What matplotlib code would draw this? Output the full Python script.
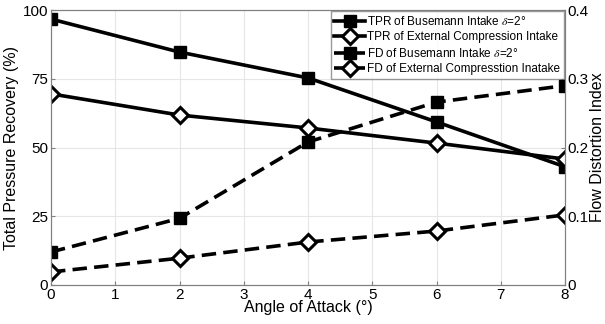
import matplotlib
matplotlib.use('Agg')
import matplotlib.pyplot as plt

plt.rcParams['font.family'] = ['Liberation Sans', 'DejaVu Sans']
plt.rcParams['mathtext.fontset'] = 'stix'

# angle of attack (deg)
aoa = [0, 2, 4, 6, 8]
# total pressure recovery (%)
tpr_busemann = [96.7, 84.7, 75.3, 59.3, 43.0]
tpr_external = [69.5, 61.8, 57.1, 51.6, 45.8]
# flow distortion index
fd_busemann = [0.048, 0.097, 0.208, 0.266, 0.290]
fd_external = [0.019, 0.039, 0.0625, 0.0785, 0.102]

labels = ['TPR of Busemann Intake $\\delta$=2\u00b0',
          'TPR of External Compression Intake',
          'FD of Busemann Intake $\\delta$=2\u00b0',
          'FD of External Compresstion Inatake']

fig = plt.figure(figsize=(6.05, 3.24), dpi=100)
ax = fig.add_axes([51/605, 1 - 285/324, (565-51)/605, 275/324])
ax2 = ax.twinx()

lw = 2.6
l1, = ax.plot(aoa, tpr_busemann, '-', color='black', lw=lw, marker='s', ms=9,
              mfc='black', mec='black')
l2, = ax.plot(aoa, tpr_external, '-', color='black', lw=lw, marker='D', ms=8,
              mfc='white', mec='black', mew=2.2)
l3, = ax2.plot(aoa, fd_busemann, '--', color='black', lw=lw, marker='s', ms=9,
               mfc='black', mec='black', dashes=(4, 2))
l4, = ax2.plot(aoa, fd_external, '--', color='black', lw=lw, marker='D', ms=8,
               mfc='white', mec='black', mew=2.2, dashes=(4, 2))

ax.set_xlim(0, 8)
ax.set_ylim(0, 100)
ax2.set_ylim(0, 0.4)
ax.set_xticks(range(9))
ax.set_yticks([0, 25, 50, 75, 100])
ax2.set_yticks([0, 0.1, 0.2, 0.3, 0.4])
ax2.set_yticklabels(['0', '0.1', '0.2', '0.3', '0.4'])

ax.grid(True, color='#e6e6e6', lw=0.8)
ax.set_axisbelow(True)
for a in (ax, ax2):
    for s in a.spines.values():
        s.set_color('#808080')
    a.tick_params(direction='in', labelsize=11, length=3, color='#808080', pad=2)

ax.set_xlabel('Angle of Attack (\u00b0)', fontsize=11.5, labelpad=-1)
ax.set_ylabel('Total Pressure Recovery (%)', fontsize=11.5, labelpad=3)
ax2.set_ylabel('Flow Distortion Index', fontsize=11.5, labelpad=1)

leg = ax.legend([l1, l2, l3, l4], labels, loc='upper right', fontsize=8.5,
                frameon=True, fancybox=False, edgecolor='#808080',
                borderpad=0.3, labelspacing=0.3, handlelength=2.6,
                handletextpad=0.2, borderaxespad=0.1)
leg.get_frame().set_linewidth(1.0)

fig.savefig('out.png', dpi=100)
